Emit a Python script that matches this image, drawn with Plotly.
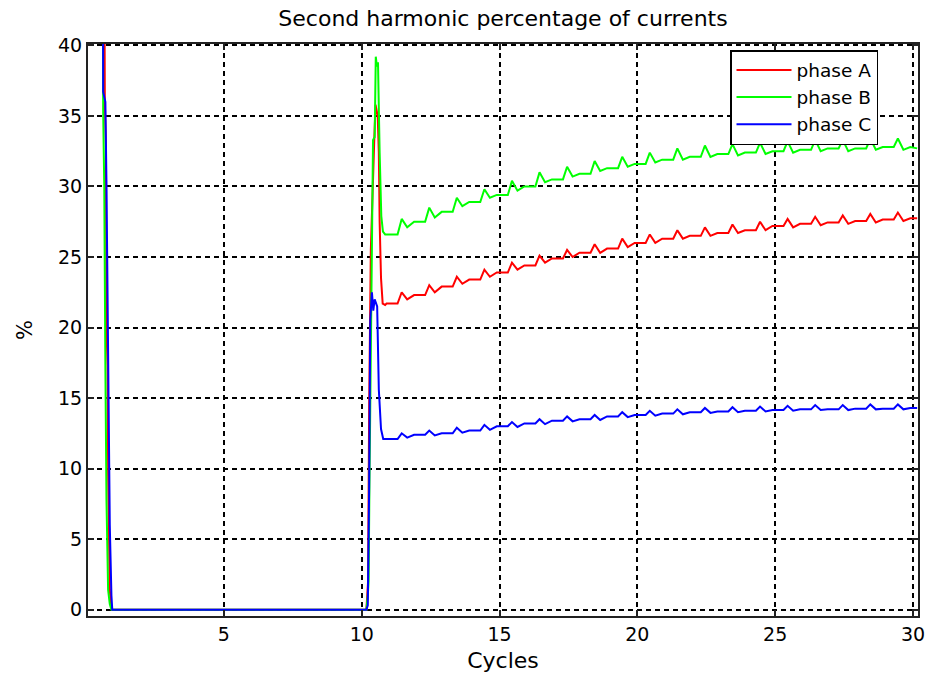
import plotly.graph_objects as go

# ---------------- data ----------------
# initial inrush (cycles, %)
init_x_a = [0.05, 0.64, 0.68, 0.72, 0.74, 0.78, 0.80, 0.84, 0.86, 0.90, 0.94]
init_y_a = [70.0, 60.0, 36.0, 33.0, 20.0, 17.3, 9.7, 3.9, 1.4, 0.5, 0.0]
init_x_b = [0.05, 0.60, 0.62, 0.66, 0.70, 0.74, 0.80, 0.86, 0.92]
init_y_b = [70.0, 60.0, 35.4, 30.0, 17.3, 7.8, 1.4, 0.4, 0.0]
init_x_c = [0.05, 0.60, 0.62, 0.70, 0.74, 0.78, 0.86, 0.92, 0.95]
init_y_c = [70.0, 60.0, 36.7, 36.0, 30.2, 20.0, 6.0, 1.0, 0.0]

# energisation transient near cycle 10
tr_x_a = [10.17, 10.20, 10.23, 10.27, 10.33, 10.45, 10.50, 10.58, 10.62, 10.65, 10.70, 10.76, 10.85]
tr_y_a = [0.0, 1.8, 2.0, 14.5, 25.5, 33.0, 35.8, 35.0, 32.4, 27.5, 23.5, 21.7, 21.6]
tr_x_b = [10.17, 10.22, 10.25, 10.28, 10.35, 10.41, 10.47, 10.51, 10.55, 10.59, 10.65, 10.71, 10.77, 10.85]
tr_y_b = [0.0, 1.0, 2.0, 8.8, 24.9, 33.3, 33.5, 39.2, 38.5, 38.8, 32.4, 27.9, 26.8, 26.6]
tr_x_c = [10.17, 10.22, 10.27, 10.31, 10.37, 10.42, 10.47, 10.56, 10.62, 10.70, 10.78, 10.85]
tr_y_c = [0.0, 0.3, 8.8, 20.5, 22.5, 21.2, 22.0, 21.5, 15.6, 12.8, 12.1, 12.1]

# steady part: per cycle n = 11..29 -> [flat, flat, peak, dip], then cycle 30 -> [flat, flat]
steady_a = [21.7, 21.7, 22.5, 22.0,
            22.3, 22.3, 23.0, 22.5,
            22.9, 22.9, 23.6, 23.1,
            23.4, 23.4, 24.1, 23.6,
            23.9, 23.9, 24.6, 24.1,
            24.4, 24.4, 25.1, 24.6,
            24.9, 24.9, 25.5, 25.0,
            25.3, 25.3, 25.9, 25.3,
            25.6, 25.6, 26.3, 25.7,
            26.0, 26.0, 26.6, 26.0,
            26.3, 26.3, 26.9, 26.3,
            26.5, 26.5, 27.1, 26.5,
            26.7, 26.7, 27.3, 26.7,
            26.9, 26.9, 27.5, 26.9,
            27.2, 27.2, 27.7, 27.1,
            27.35, 27.35, 27.85, 27.25,
            27.45, 27.45, 27.95, 27.35,
            27.55, 27.55, 28.05, 27.45,
            27.65, 27.65, 28.15, 27.55,
            27.75, 27.75]
steady_b = [26.6, 26.6, 27.7, 27.1,
            27.5, 27.5, 28.5, 27.8,
            28.2, 28.2, 29.2, 28.6,
            28.9, 28.9, 29.8, 29.2,
            29.4, 29.4, 30.4, 29.7,
            30.0, 30.0, 31.0, 30.3,
            30.5, 30.5, 31.4, 30.7,
            30.9, 30.9, 31.8, 31.1,
            31.3, 31.3, 32.1, 31.4,
            31.6, 31.6, 32.4, 31.7,
            31.9, 31.9, 32.7, 31.9,
            32.1, 32.1, 32.9, 32.1,
            32.3, 32.3, 33.0, 32.2,
            32.4, 32.4, 33.1, 32.3,
            32.5, 32.5, 33.2, 32.4,
            32.6, 32.6, 33.3, 32.5,
            32.7, 32.7, 33.3, 32.5,
            32.7, 32.7, 33.4, 32.6,
            32.8, 32.8, 33.4, 32.6,
            32.8, 32.7]
steady_c = [12.1, 12.1, 12.5, 12.2,
            12.4, 12.4, 12.7, 12.35,
            12.5, 12.5, 12.9, 12.55,
            12.7, 12.7, 13.1, 12.75,
            13.0, 13.0, 13.3, 12.95,
            13.2, 13.2, 13.5, 13.15,
            13.4, 13.4, 13.7, 13.35,
            13.5, 13.5, 13.8, 13.45,
            13.7, 13.7, 14.0, 13.65,
            13.8, 13.8, 14.1, 13.75,
            13.9, 13.9, 14.2, 13.85,
            14.0, 14.0, 14.3, 13.95,
            14.05, 14.05, 14.35, 14.0,
            14.1, 14.1, 14.4, 14.05,
            14.15, 14.15, 14.45, 14.1,
            14.2, 14.2, 14.5, 14.15,
            14.2, 14.2, 14.5, 14.15,
            14.25, 14.25, 14.55, 14.2,
            14.25, 14.25, 14.55, 14.2,
            14.3, 14.3]
# sample times of the steady part (cycles)
steady_cycles = list(range(11, 30))
steady_offsets = [-0.1, 0.3, 0.45, 0.65]
steady_x = [n + o for n in steady_cycles for o in steady_offsets] + [29.9, 30.15]

series_names = ["phase A", "phase B", "phase C"]
series_colors = ["#ff0000", "#00ff00", "#0000ff"]
x_ticks = [5, 10, 15, 20, 25, 30]
y_ticks = [0, 5, 10, 15, 20, 25, 30, 35, 40]

# ---------------- figure ----------------
xs = [init_x_a + tr_x_a + steady_x, init_x_b + tr_x_b + steady_x, init_x_c + tr_x_c + steady_x]
ys = [init_y_a + tr_y_a + steady_a, init_y_b + tr_y_b + steady_b, init_y_c + tr_y_c + steady_c]

fig = go.Figure()
for name, col, x, y in zip(series_names, series_colors, xs, ys):
    fig.add_trace(go.Scatter(x=x, y=y, mode="lines", name=name,
                             line=dict(color=col, width=2)))

FONT = "DejaVu Sans"
axis_common = dict(
    showline=True, linecolor="#222222", linewidth=2, mirror="allticks",
    ticks="inside", ticklen=6, tickwidth=1.5, tickcolor="#222222",
    showgrid=True, gridcolor="black", gridwidth=1.5, griddash="5px,4px",
    zeroline=False, automargin=False,
    tickfont=dict(family=FONT, size=19, color="black"),
)

fig.update_layout(
    width=927, height=678,
    margin=dict(l=88, r=9, t=44, b=62),
    paper_bgcolor="white", plot_bgcolor="white",
    title=dict(text="Second harmonic percentage of currents", xref="paper", x=0.5, xanchor="center",
               y=1 - 18 / 678, yanchor="middle", automargin=False,
               font=dict(family=FONT, size=22, color="black")),
    xaxis=dict(range=[0.07, 30.18], tickvals=x_ticks, ticktext=[str(v) for v in x_ticks],
               title=dict(text="Cycles", font=dict(family=FONT, size=22, color="black"), standoff=9),
               **axis_common),
    yaxis=dict(range=[-0.45, 40.1], tickvals=y_ticks, ticktext=[str(v) for v in y_ticks],
               title=dict(text="%", font=dict(family=FONT, size=21, color="black"), standoff=20),
               **axis_common),
    legend=dict(x=0.7735, y=0.9895, xanchor="left", yanchor="top",
                bgcolor="white", bordercolor="black", borderwidth=1.5,
                font=dict(family=FONT, size=18.5, color="black"), itemwidth=55),
    showlegend=True,
)

fig.write_html(
    "out.html",
    config={"responsive": False, "displayModeBar": False},
    post_script="document.body.style.margin='0px';document.body.style.overflow='hidden';",
)
